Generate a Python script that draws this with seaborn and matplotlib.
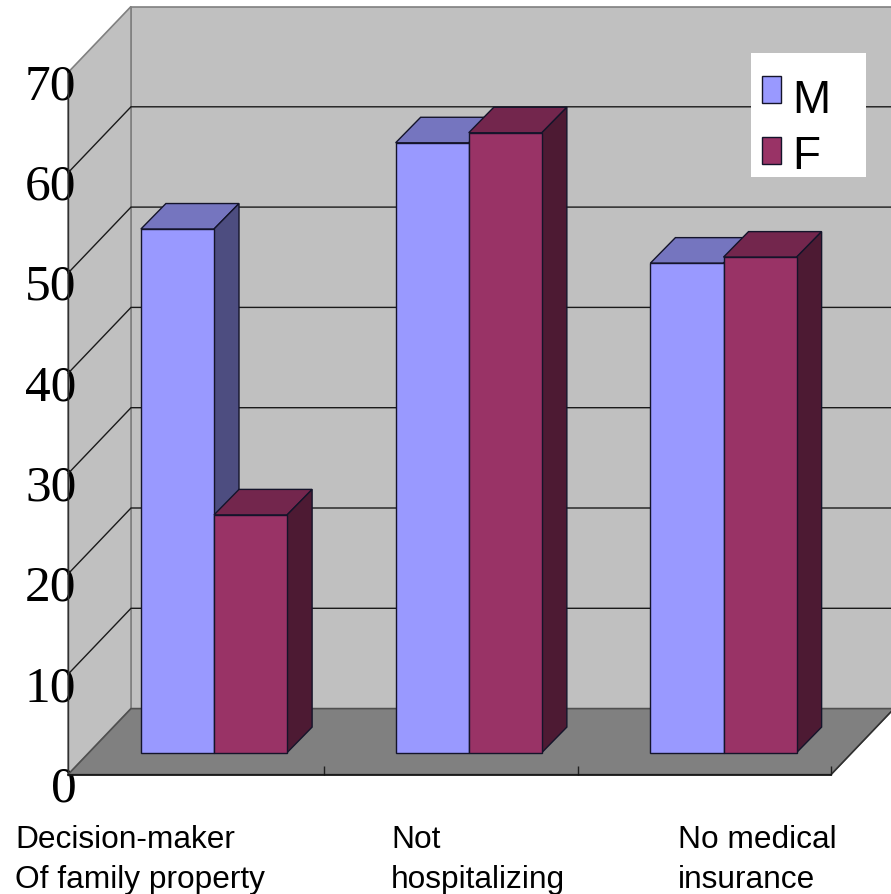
import matplotlib
matplotlib.use("Agg")
import matplotlib.pyplot as plt
from matplotlib.patches import Polygon, Rectangle
from matplotlib.transforms import ScaledTranslation
import pandas as pd
import seaborn as sns

# Survey percentages by sex
categories = ["Decision-maker", "Not hospitalizing", "No medical insurance"]
category_lines = ["Decision-maker\nOf family property", "Not\nhospitalizing", "No medical\ninsurance"]
male_values = [52.2, 60.8, 48.8]
female_values = [23.7, 61.8, 49.4]
value_ticks = [0, 10, 20, 30, 40, 50, 60, 70]

WIDTH, HEIGHT = 891, 895
PX_PER_CAT = 254.75
PX_PER_VALUE = 10.03
CAT0_PX = 214.0
BASE_PX = 753.0


def fx(px):
    """Horizontal figure pixel to category coordinate."""
    return (px - CAT0_PX) / PX_PER_CAT


def fy(px):
    """Vertical figure pixel (from the top) to value coordinate."""
    return (BASE_PX - px) / PX_PER_VALUE


sns.set_theme(style="white")
plt.rcParams["font.family"] = ["Liberation Sans", "DejaVu Sans"]

fig = plt.figure(figsize=(WIDTH / 100, HEIGHT / 100), dpi=100, facecolor="white")
ax = fig.add_axes([0, 0, 1, 1])

df = pd.DataFrame({
    "category": categories * 2,
    "sex": ["M"] * 3 + ["F"] * 3,
    "value": male_values + female_values,
})
palette = {"M": "#9999FF", "F": "#993366"}
sns.barplot(data=df, x="category", y="value", hue="sex", hue_order=["M", "F"],
            palette=palette, saturation=1, width=0.574, gap=0, errorbar=None,
            edgecolor="#14142a", linewidth=1.0, ax=ax, zorder=3)

ax.set_xlim(fx(0), fx(WIDTH))
ax.set_ylim(fy(HEIGHT - 0.6), fy(-0.6))
ax.set_xlabel("")
ax.set_ylabel("")

# Box of the chart: front floor corners and the depth of the box
x_left, x_right = fx(68), fx(831)
y_floor = fy(775)
box_dx = 63 / PX_PER_CAT
box_dy = 66 / PX_PER_VALUE
y_top = y_floor + value_ticks[-1]

wall_edge = "#808080"
ax.add_patch(Polygon([(x_left + box_dx, y_floor + box_dy), (x_right + box_dx, y_floor + box_dy),
                      (x_right + box_dx, y_top + box_dy), (x_left + box_dx, y_top + box_dy)],
                     closed=True, facecolor="#C0C0C0", edgecolor=wall_edge, lw=1.2, zorder=0.5))
ax.add_patch(Polygon([(x_left, y_floor), (x_left + box_dx, y_floor + box_dy),
                      (x_left + box_dx, y_top + box_dy), (x_left, y_top)],
                     closed=True, facecolor="#C0C0C0", edgecolor=wall_edge, lw=1.2, zorder=0.5))
ax.add_patch(Polygon([(x_left, y_floor), (x_right, y_floor),
                      (x_right + box_dx, y_floor + box_dy), (x_left + box_dx, y_floor + box_dy)],
                     closed=True, facecolor="#808080", edgecolor="#505050", lw=1.2, zorder=0.6))

# Gridlines run along the left wall and across the back wall
for v in value_ticks[1:-1]:
    ax.plot([x_left, x_left + box_dx, x_right + box_dx],
            [y_floor + v, y_floor + v + box_dy, y_floor + v + box_dy],
            color="#1a1a1a", lw=1.0, zorder=0.7, solid_joinstyle="miter")
ax.plot([x_right, x_right + box_dx], [y_floor, y_floor + box_dy], color="#303030", lw=1.0, zorder=0.8)

# Top and side faces extruded from every seaborn bar
bar_dx = 25 / PX_PER_CAT
bar_dy = 25.5 / PX_PER_VALUE
shades = {"M": ("#7575BF", "#4D4D80"), "F": ("#73264D", "#4D1A33")}
for s, (sex, container) in enumerate(zip(["M", "F"], ax.containers)):
    top_colour, side_colour = shades[sex]
    for bar in container:
        x0, x1 = bar.get_x(), bar.get_x() + bar.get_width()
        h = bar.get_height()
        z = 3 + s
        ax.add_patch(Polygon([(x0, h), (x1, h), (x1 + bar_dx, h + bar_dy), (x0 + bar_dx, h + bar_dy)],
                             closed=True, facecolor=top_colour, edgecolor="#14142a", lw=1.0, zorder=z))
        ax.add_patch(Polygon([(x1, 0), (x1 + bar_dx, bar_dy), (x1 + bar_dx, h + bar_dy), (x1, h)],
                             closed=True, facecolor=side_colour, edgecolor="#14142a", lw=1.0, zorder=z))
        bar.set_zorder(z + 0.5)

# Axes frame sits on the front edge of the box
for name in ("top", "right"):
    ax.spines[name].set_visible(False)
ax.spines["left"].set_position(("data", x_left))
ax.spines["left"].set_bounds(y_floor, y_top)
ax.spines["left"].set_color("#303030")
ax.spines["left"].set_linewidth(1.0)
ax.spines["bottom"].set_position(("data", y_floor))
ax.spines["bottom"].set_bounds(x_left, x_right)
ax.spines["bottom"].set_color("#101010")
ax.spines["bottom"].set_linewidth(1.2)

ax.set_yticks([y_floor + v for v in value_ticks], [str(v) for v in value_ticks])
ax.tick_params(axis="y", left=False, pad=-12, labelsize=37, labelcolor="black")
for label in ax.get_yticklabels():
    label.set_fontfamily(["Liberation Serif"])
    label.set_transform(label.get_transform() + ScaledTranslation(0, -8 / 100, fig.dpi_scale_trans))

# Group separators rise from the front floor edge
ax.set_xticks([fx(324), fx(578), fx(831)], ["", "", ""])
ax.tick_params(axis="x", bottom=False)
ax.vlines(ax.get_xticks(), y_floor, y_floor + 0.9, color="#202020", lw=1.0, zorder=2)

# Category captions sit left-aligned below the floor
for text, left in zip(category_lines, [15, 391, 678]):
    ax.text(fx(left), fy(824.5), text, ha="left", va="top", fontsize=22.8, color="black",
            linespacing=1.41)

# White legend panel with the swatches and labels laid over it
ax.add_patch(Rectangle((751 / WIDTH, 1 - 178 / HEIGHT), 115 / WIDTH, 124 / HEIGHT,
                       transform=ax.transAxes, facecolor="white", edgecolor="none", zorder=9))
handles, labels = ax.get_legend_handles_labels()
legend = ax.legend(handles, labels, loc="upper left",
                   bbox_to_anchor=(751 / WIDTH, 1 - 62 / HEIGHT), labelcolor="black",
                   borderaxespad=0, frameon=False, fontsize=33, borderpad=0.24,
                   handlelength=0.41, handleheight=0.52, handletextpad=0.25, labelspacing=0.365)
legend.set_zorder(10)
for t, drop in zip(legend.get_texts(), [-6, -1]):
    t.set_position((0, drop))

fig.savefig("out.png", dpi=100)
